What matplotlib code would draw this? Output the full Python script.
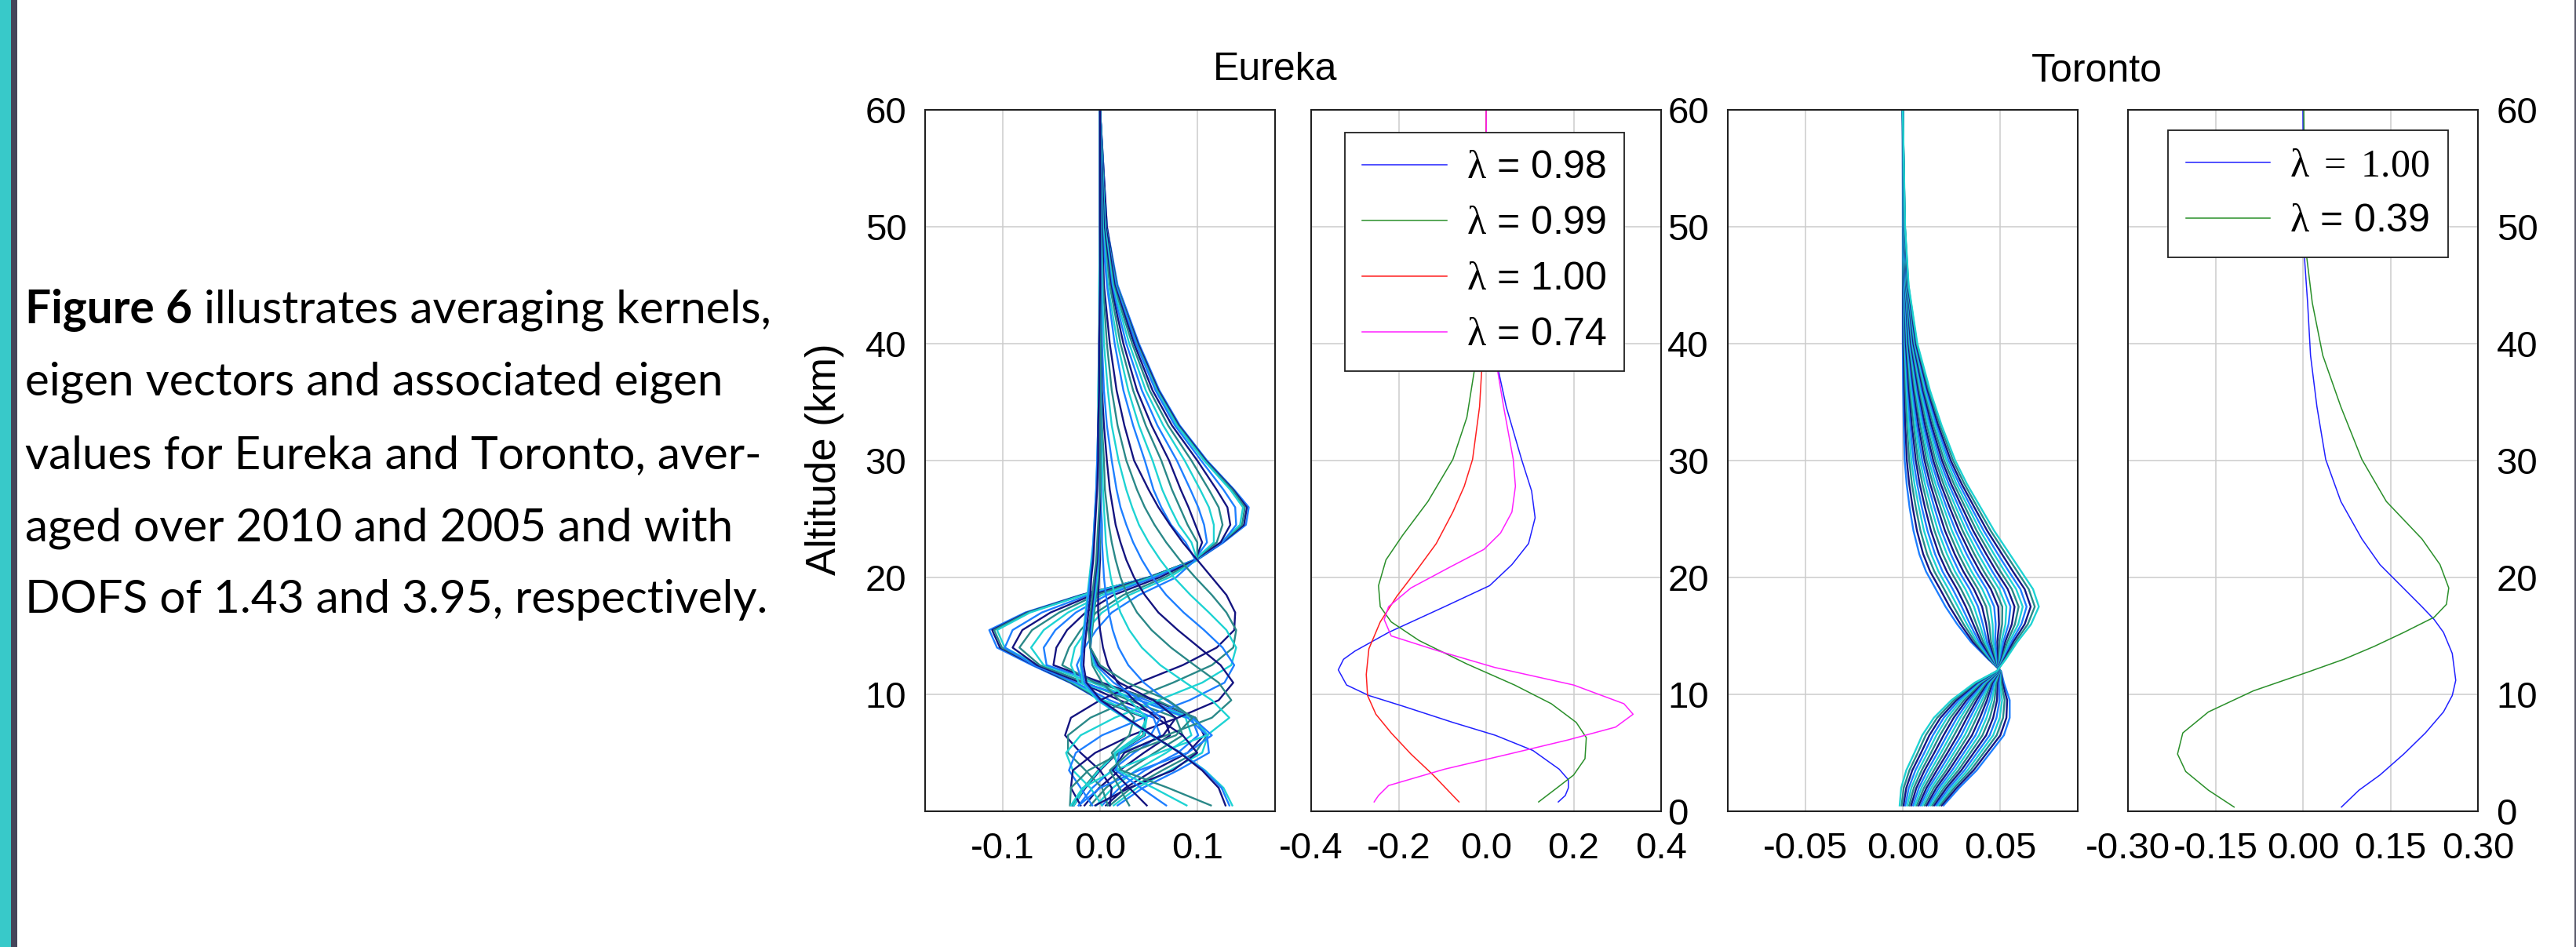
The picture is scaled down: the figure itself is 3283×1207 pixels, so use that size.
import matplotlib
matplotlib.use('Agg')
import matplotlib.pyplot as plt
from matplotlib.patches import Rectangle
import numpy as np

plt.rcParams['font.family'] = ['Liberation Sans', 'DejaVu Sans']
plt.rcParams['mathtext.fontset'] = 'custom'
plt.rcParams['mathtext.rm'] = 'Liberation Serif'
plt.rcParams['mathtext.it'] = 'Liberation Serif:italic'
plt.rcParams['mathtext.bf'] = 'Liberation Serif:bold'

# ---------------- data ----------------
caption_bold = 'Figure 6'
caption_lines = [' illustrates averaging kernels,',
                 'eigen vectors and associated eigen',
                 'values for Eureka and Toronto, aver-',
                 'aged over 2010 and 2005 and with',
                 'DOFS of 1.43 and 3.95, respectively.']

# Eureka averaging kernels: one row per kernel, values at eureka_alt (km)
eureka_alt = [0.5, 2, 3.5, 5, 6.5, 8, 9.5, 11, 12.5, 14, 15.5, 17, 18.5, 20,
              21.5, 23, 24.5, 26, 27.5, 30, 33, 36, 40, 45, 50, 60]
eureka_ak = [
    # upper-level kernels (bunched envelope)
    [-0.028, -0.016, -0.001, 0.017, 0.045, 0.047, 0.000, -0.031, -0.070, -0.106, -0.114, -0.077, -0.020, 0.051, 0.100, 0.127, 0.150, 0.153, 0.138, 0.110, 0.082, 0.061, 0.040, 0.018, 0.007, 0.0],
    [-0.027, -0.015, 0.000, 0.018, 0.046, 0.046, 0.001, -0.030, -0.068, -0.103, -0.111, -0.075, -0.019, 0.050, 0.099, 0.126, 0.148, 0.151, 0.137, 0.109, 0.081, 0.060, 0.039, 0.017, 0.007, 0.0],
    [-0.029, -0.017, -0.002, 0.016, 0.044, 0.047, 0.002, -0.029, -0.066, -0.101, -0.109, -0.074, -0.018, 0.050, 0.099, 0.125, 0.146, 0.149, 0.136, 0.108, 0.080, 0.059, 0.038, 0.017, 0.006, 0.0],
    [-0.027, -0.016, -0.001, 0.017, 0.045, 0.048, 0.004, -0.027, -0.064, -0.098, -0.106, -0.072, -0.017, 0.049, 0.099, 0.124, 0.144, 0.147, 0.134, 0.107, 0.079, 0.058, 0.037, 0.016, 0.006, 0.0],
    # fan with nested lobes
    [-0.022, -0.008, 0.012, 0.035, 0.062, 0.055, 0.010, -0.025, -0.068, -0.098, -0.090, -0.060, -0.012, 0.050, 0.098, 0.126, 0.140, 0.139, 0.127, 0.104, 0.077, 0.057, 0.037, 0.016, 0.006, 0.0],
    [-0.016, -0.001, 0.020, 0.045, 0.072, 0.066, 0.020, -0.020, -0.065, -0.090, -0.080, -0.051, -0.008, 0.050, 0.097, 0.124, 0.134, 0.131, 0.120, 0.100, 0.074, 0.054, 0.035, 0.015, 0.006, 0.0],
    [-0.010, 0.006, 0.028, 0.056, 0.085, 0.078, 0.030, -0.015, -0.062, -0.083, -0.070, -0.042, -0.004, 0.051, 0.097, 0.120, 0.126, 0.122, 0.112, 0.094, 0.070, 0.051, 0.033, 0.014, 0.005, 0.0],
    [-0.004, 0.013, 0.037, 0.068, 0.094, 0.088, 0.040, -0.008, -0.058, -0.071, -0.058, -0.033, 0.002, 0.053, 0.097, 0.117, 0.117, 0.112, 0.103, 0.087, 0.065, 0.047, 0.030, 0.013, 0.005, 0.0],
    [0.002, 0.020, 0.046, 0.080, 0.101, 0.094, 0.048, 0.000, -0.055, -0.058, -0.046, -0.025, 0.007, 0.056, 0.097, 0.110, 0.107, 0.101, 0.093, 0.079, 0.059, 0.043, 0.027, 0.012, 0.004, 0.0],
    [0.006, 0.026, 0.055, 0.090, 0.107, 0.098, 0.055, 0.002, -0.048, -0.045, -0.034, -0.015, 0.014, 0.061, 0.098, 0.105, 0.098, 0.091, 0.083, 0.071, 0.053, 0.038, 0.024, 0.011, 0.004, 0.0],
    [0.010, 0.032, 0.064, 0.098, 0.110, 0.098, 0.058, -0.005, -0.039, -0.032, -0.020, -0.004, 0.024, 0.066, 0.100, 0.100, 0.090, 0.082, 0.074, 0.063, 0.047, 0.034, 0.021, 0.010, 0.003, 0.0],
    [0.014, 0.038, 0.072, 0.105, 0.111, 0.095, 0.040, -0.022, -0.030, -0.026, -0.014, 0.002, 0.030, 0.071, 0.100, 0.094, 0.081, 0.072, 0.064, 0.054, 0.040, 0.029, 0.018, 0.008, 0.003, 0.0],
    [0.018, 0.044, 0.080, 0.112, 0.110, 0.090, 0.040, -0.018, -0.024, -0.016, -0.004, 0.012, 0.040, 0.078, 0.098, 0.088, 0.073, 0.063, 0.055, 0.046, 0.034, 0.024, 0.015, 0.007, 0.002, 0.0],
    # mid-level kernels
    [0.010, 0.012, 0.000, -0.020, -0.036, -0.030, 0.000, 0.040, 0.085, 0.120, 0.138, 0.139, 0.130, 0.115, 0.100, 0.085, 0.072, 0.060, 0.050, 0.035, 0.025, 0.017, 0.010, 0.004, 0.002, 0.0],
    [0.008, 0.002, -0.015, -0.033, -0.033, -0.010, 0.030, 0.075, 0.115, 0.137, 0.140, 0.130, 0.115, 0.098, 0.082, 0.068, 0.056, 0.046, 0.038, 0.027, 0.018, 0.012, 0.007, 0.003, 0.001, 0.0],
    [0.002, -0.010, -0.028, -0.035, -0.020, 0.015, 0.060, 0.105, 0.135, 0.140, 0.130, 0.112, 0.093, 0.076, 0.062, 0.050, 0.040, 0.033, 0.027, 0.019, 0.012, 0.008, 0.004, 0.002, 0.001, 0.0],
    [-0.008, -0.020, -0.032, -0.025, 0.002, 0.045, 0.092, 0.128, 0.138, 0.126, 0.107, 0.086, 0.068, 0.054, 0.043, 0.034, 0.027, 0.021, 0.017, 0.012, 0.007, 0.004, 0.002, 0.001, 0.0, 0.0],
    [-0.020, -0.030, -0.028, -0.005, 0.032, 0.080, 0.122, 0.137, 0.124, 0.102, 0.080, 0.060, 0.046, 0.035, 0.027, 0.021, 0.016, 0.013, 0.010, 0.007, 0.004, 0.002, 0.001, 0.0, 0.0, 0.0],
    [-0.031, -0.030, -0.012, 0.022, 0.068, 0.115, 0.135, 0.122, 0.097, 0.073, 0.053, 0.038, 0.028, 0.021, 0.016, 0.012, 0.009, 0.007, 0.005, 0.004, 0.002, 0.001, 0.001, 0.0, 0.0, 0.0],
    [-0.030, -0.018, 0.015, 0.060, 0.110, 0.133, 0.115, 0.088, 0.062, 0.043, 0.030, 0.021, 0.015, 0.011, 0.008, 0.006, 0.005, 0.004, 0.003, 0.002, 0.001, 0.001, 0.0, 0.0, 0.0, 0.0],
    [-0.022, 0.000, 0.040, 0.090, 0.115, 0.095, 0.068, 0.045, 0.029, 0.019, 0.013, 0.009, 0.006, 0.004, 0.003, 0.002, 0.002, 0.001, 0.001, 0.0, 0.0, 0.0, 0.0, 0.0, 0.0, 0.0],
    [-0.005, 0.030, 0.075, 0.100, 0.085, 0.058, 0.035, 0.018, 0.008, 0.003, 0.000, -0.002, -0.002, -0.001, 0.0, 0.0, 0.0, 0.0, 0.0, 0.0, 0.0, 0.0, 0.0, 0.0, 0.0, 0.0],
    # low-level kernels
    [0.114, 0.070, 0.022, 0.012, 0.030, 0.035, 0.020, 0.002, -0.008, -0.010, -0.008, -0.006, -0.004, -0.002, -0.001, 0.0, 0.0, 0.0, 0.0, 0.0, 0.0, 0.0, 0.0, 0.0, 0.0, 0.0],
    [0.089, 0.055, 0.018, 0.015, 0.040, 0.048, 0.030, 0.008, -0.006, -0.010, -0.009, -0.007, -0.005, -0.003, -0.002, -0.001, 0.0, 0.0, 0.0, 0.0, 0.0, 0.0, 0.0, 0.0, 0.0, 0.0],
    [0.068, 0.042, 0.016, 0.020, 0.052, 0.062, 0.042, 0.014, -0.004, -0.010, -0.010, -0.008, -0.006, -0.004, -0.002, -0.001, 0.0, 0.0, 0.0, 0.0, 0.0, 0.0, 0.0, 0.0, 0.0, 0.0],
    [0.048, 0.030, 0.013, 0.025, 0.065, 0.078, 0.055, 0.020, -0.002, -0.010, -0.011, -0.009, -0.007, -0.005, -0.003, -0.002, -0.001, 0.0, 0.0, 0.0, 0.0, 0.0, 0.0, 0.0, 0.0, 0.0],
    [0.030, 0.020, 0.010, 0.030, 0.078, 0.095, 0.070, 0.028, 0.000, -0.010, -0.012, -0.010, -0.008, -0.006, -0.004, -0.003, -0.002, -0.001, 0.0, 0.0, 0.0, 0.0, 0.0, 0.0, 0.0, 0.0],
    [0.136, 0.127, 0.108, 0.083, 0.052, 0.025, -0.003, -0.018, -0.020, -0.019, -0.017, -0.015, -0.013, -0.011, -0.009, -0.007, -0.006, -0.005, -0.004, -0.003, -0.002, -0.002, -0.001, -0.001, 0.0, 0.0],
    [0.133, 0.125, 0.107, 0.083, 0.053, 0.026, -0.001, -0.016, -0.019, -0.018, -0.016, -0.014, -0.012, -0.010, -0.008, -0.007, -0.006, -0.005, -0.004, -0.003, -0.002, -0.001, -0.001, 0.0, 0.0, 0.0],
    [0.129, 0.122, 0.105, 0.082, 0.054, 0.027, 0.001, -0.014, -0.017, -0.016, -0.014, -0.012, -0.010, -0.009, -0.007, -0.006, -0.005, -0.004, -0.003, -0.002, -0.002, -0.001, -0.001, 0.0, 0.0, 0.0],
]

# Eureka eigen vectors
eu_labels = [r'$\mathrm{\lambda}$ = 0.98', r'$\mathrm{\lambda}$ = 0.99',
             r'$\mathrm{\lambda}$ = 1.00', r'$\mathrm{\lambda}$ = 0.74']
eu_colors = ['#2020ff', '#2a8f2a', '#ff2020', '#ff20ff']
eu_v1_alt = [0.8, 1.35, 2.0, 2.7, 3.6, 5.2, 6.5, 7.6, 9.0, 9.9, 10.8, 12.1, 13.0, 13.7, 15.3, 17.5,
             19.3, 21.1, 22.9, 25.1, 27.4, 30.1, 34.6, 39.1, 45, 50, 55, 60]
eu_v1 = [0.165, 0.181, 0.188, 0.188, 0.167, 0.107, 0.021, -0.076, -0.191, -0.268, -0.319, -0.338,
         -0.326, -0.300, -0.223, -0.095, 0.008, 0.059, 0.097, 0.112, 0.104, 0.081, 0.046, 0.020,
         0.007, 0.003, 0.001, 0.0]
eu_v2_alt = [0.8, 2.0, 3.1, 4.5, 6.3, 7.6, 9.2, 10.8, 12.6, 14.6, 16.2, 17.5, 19.3, 21.5, 23.6,
             26.5, 30.1, 33.7, 39.1, 45, 50, 55, 60]
eu_v2 = [0.120, 0.162, 0.200, 0.226, 0.229, 0.206, 0.149, 0.065, -0.044, -0.153, -0.217, -0.242,
         -0.246, -0.229, -0.191, -0.133, -0.076, -0.044, -0.021, -0.008, -0.003, -0.001, 0.0]
eu_v3_alt = [0.8, 3.1, 4.9, 6.7, 8.3, 9.9, 11.7, 13.9, 16.2, 18.4, 20.6, 22.9, 25.6, 27.8, 30.1,
             34.6, 39.1, 45, 50, 55, 60]
eu_v3 = [-0.062, -0.121, -0.172, -0.217, -0.252, -0.271, -0.274, -0.268, -0.242, -0.204, -0.159,
         -0.114, -0.076, -0.050, -0.031, -0.015, -0.008, -0.003, -0.001, 0.0, 0.0]
eu_v4_alt = [0.8, 1.35, 2.2, 3.6, 4.9, 6.1, 7.2, 8.3, 9.2, 10.8, 12.3, 13.7, 15.0, 16.4, 17.5, 19.1,
             20.9, 22.4, 23.8, 25.6, 27.8, 30.1, 34.6, 39.1, 45, 50, 55, 60]
eu_v4 = [-0.256, -0.246, -0.223, -0.095, 0.053, 0.187, 0.296, 0.336, 0.315, 0.200, 0.020, -0.108,
         -0.217, -0.233, -0.223, -0.172, -0.082, -0.005, 0.033, 0.059, 0.067, 0.062, 0.040, 0.020,
         0.008, 0.003, 0.001, 0.0]

# Toronto averaging kernels: one row per altitude, one column per kernel
toronto_alt = [0.5, 2, 3.5, 5, 6.5, 8, 9.5, 11, 12, 13, 14.5, 16, 17.5, 19, 20.5, 22, 24, 26,
               28, 30, 33, 36, 40, 45, 50, 60]
toronto_ak = [
    [0.0210, 0.0200, 0.0190, 0.0181, 0.0171, 0.0161, 0.0151, 0.0141, 0.0131, 0.0122, 0.0112, 0.0102, 0.0092, 0.0082, 0.0072, 0.0063, 0.0053, 0.0043, 0.0033, 0.0023, 0.0013, 0.0004, -0.0006, -0.0016],
    [0.0290, 0.0277, 0.0264, 0.0251, 0.0238, 0.0225, 0.0212, 0.0199, 0.0186, 0.0173, 0.0160, 0.0147, 0.0134, 0.0122, 0.0109, 0.0096, 0.0083, 0.0070, 0.0057, 0.0044, 0.0031, 0.0018, 0.0005, -0.0008],
    [0.0380, 0.0364, 0.0349, 0.0333, 0.0317, 0.0301, 0.0286, 0.0270, 0.0254, 0.0238, 0.0223, 0.0207, 0.0191, 0.0175, 0.0160, 0.0144, 0.0128, 0.0112, 0.0097, 0.0081, 0.0065, 0.0049, 0.0034, 0.0018],
    [0.0450, 0.0433, 0.0416, 0.0399, 0.0382, 0.0365, 0.0348, 0.0331, 0.0314, 0.0297, 0.0280, 0.0263, 0.0246, 0.0230, 0.0213, 0.0196, 0.0179, 0.0162, 0.0145, 0.0128, 0.0111, 0.0094, 0.0077, 0.0060],
    [0.0520, 0.0502, 0.0483, 0.0465, 0.0447, 0.0429, 0.0410, 0.0392, 0.0374, 0.0356, 0.0337, 0.0319, 0.0301, 0.0283, 0.0264, 0.0246, 0.0228, 0.0210, 0.0191, 0.0173, 0.0155, 0.0137, 0.0118, 0.0100],
    [0.0550, 0.0533, 0.0516, 0.0499, 0.0482, 0.0465, 0.0448, 0.0431, 0.0414, 0.0397, 0.0380, 0.0363, 0.0346, 0.0330, 0.0313, 0.0296, 0.0279, 0.0262, 0.0245, 0.0228, 0.0211, 0.0194, 0.0177, 0.0160],
    [0.0550, 0.0537, 0.0524, 0.0511, 0.0498, 0.0485, 0.0472, 0.0459, 0.0446, 0.0433, 0.0420, 0.0407, 0.0393, 0.0380, 0.0367, 0.0354, 0.0341, 0.0328, 0.0315, 0.0302, 0.0289, 0.0276, 0.0263, 0.0250],
    [0.0520, 0.0513, 0.0507, 0.0500, 0.0494, 0.0487, 0.0481, 0.0474, 0.0468, 0.0461, 0.0455, 0.0448, 0.0442, 0.0435, 0.0429, 0.0422, 0.0416, 0.0409, 0.0403, 0.0396, 0.0390, 0.0383, 0.0377, 0.0370],
    [0.0505, 0.0504, 0.0503, 0.0502, 0.0501, 0.0500, 0.0500, 0.0499, 0.0498, 0.0497, 0.0496, 0.0495, 0.0494, 0.0493, 0.0492, 0.0491, 0.0490, 0.0489, 0.0489, 0.0488, 0.0487, 0.0486, 0.0485, 0.0484],
    [0.0440, 0.0444, 0.0448, 0.0452, 0.0456, 0.0460, 0.0463, 0.0467, 0.0471, 0.0475, 0.0479, 0.0483, 0.0487, 0.0491, 0.0495, 0.0499, 0.0503, 0.0507, 0.0510, 0.0514, 0.0518, 0.0522, 0.0526, 0.0530],
    [0.0350, 0.0360, 0.0371, 0.0381, 0.0392, 0.0402, 0.0413, 0.0423, 0.0433, 0.0444, 0.0454, 0.0465, 0.0475, 0.0486, 0.0496, 0.0507, 0.0517, 0.0527, 0.0538, 0.0548, 0.0559, 0.0569, 0.0580, 0.0590],
    [0.0280, 0.0297, 0.0313, 0.0330, 0.0346, 0.0363, 0.0379, 0.0396, 0.0412, 0.0429, 0.0445, 0.0462, 0.0478, 0.0495, 0.0511, 0.0528, 0.0544, 0.0561, 0.0577, 0.0594, 0.0610, 0.0627, 0.0643, 0.0660],
    [0.0220, 0.0241, 0.0262, 0.0283, 0.0303, 0.0324, 0.0345, 0.0366, 0.0387, 0.0408, 0.0429, 0.0450, 0.0470, 0.0491, 0.0512, 0.0533, 0.0554, 0.0575, 0.0596, 0.0617, 0.0637, 0.0658, 0.0679, 0.0700],
    [0.0170, 0.0192, 0.0213, 0.0235, 0.0257, 0.0279, 0.0300, 0.0322, 0.0344, 0.0366, 0.0387, 0.0409, 0.0431, 0.0453, 0.0474, 0.0496, 0.0518, 0.0540, 0.0561, 0.0583, 0.0605, 0.0627, 0.0648, 0.0670],
    [0.0120, 0.0141, 0.0163, 0.0184, 0.0205, 0.0227, 0.0248, 0.0269, 0.0290, 0.0312, 0.0333, 0.0354, 0.0376, 0.0397, 0.0418, 0.0440, 0.0461, 0.0482, 0.0503, 0.0525, 0.0546, 0.0567, 0.0589, 0.0610],
    [0.0085, 0.0105, 0.0125, 0.0146, 0.0166, 0.0186, 0.0206, 0.0227, 0.0247, 0.0267, 0.0287, 0.0307, 0.0328, 0.0348, 0.0368, 0.0388, 0.0409, 0.0429, 0.0449, 0.0469, 0.0489, 0.0510, 0.0530, 0.0550],
    [0.0055, 0.0073, 0.0091, 0.0109, 0.0127, 0.0145, 0.0163, 0.0181, 0.0199, 0.0217, 0.0235, 0.0253, 0.0272, 0.0290, 0.0308, 0.0326, 0.0344, 0.0362, 0.0380, 0.0398, 0.0416, 0.0434, 0.0452, 0.0470],
    [0.0035, 0.0051, 0.0067, 0.0083, 0.0098, 0.0114, 0.0130, 0.0146, 0.0162, 0.0178, 0.0194, 0.0210, 0.0225, 0.0241, 0.0257, 0.0273, 0.0289, 0.0305, 0.0321, 0.0337, 0.0352, 0.0368, 0.0384, 0.0400],
    [0.0020, 0.0033, 0.0047, 0.0060, 0.0074, 0.0087, 0.0101, 0.0114, 0.0128, 0.0141, 0.0155, 0.0168, 0.0182, 0.0195, 0.0209, 0.0222, 0.0236, 0.0249, 0.0263, 0.0276, 0.0290, 0.0303, 0.0317, 0.0330],
    [0.0010, 0.0021, 0.0033, 0.0044, 0.0055, 0.0067, 0.0078, 0.0089, 0.0100, 0.0112, 0.0123, 0.0134, 0.0146, 0.0157, 0.0168, 0.0180, 0.0191, 0.0202, 0.0213, 0.0225, 0.0236, 0.0247, 0.0259, 0.0270],
    [0.0005, 0.0013, 0.0022, 0.0030, 0.0039, 0.0047, 0.0056, 0.0064, 0.0073, 0.0081, 0.0090, 0.0098, 0.0107, 0.0115, 0.0124, 0.0132, 0.0141, 0.0149, 0.0158, 0.0166, 0.0175, 0.0183, 0.0192, 0.0200],
    [0.0002, 0.0008, 0.0014, 0.0020, 0.0026, 0.0032, 0.0038, 0.0044, 0.0050, 0.0056, 0.0062, 0.0068, 0.0074, 0.0080, 0.0086, 0.0092, 0.0098, 0.0104, 0.0110, 0.0116, 0.0122, 0.0128, 0.0134, 0.0140],
    [0.0000, 0.0003, 0.0007, 0.0010, 0.0013, 0.0016, 0.0020, 0.0023, 0.0026, 0.0029, 0.0033, 0.0036, 0.0039, 0.0042, 0.0046, 0.0049, 0.0052, 0.0055, 0.0059, 0.0062, 0.0065, 0.0068, 0.0072, 0.0075],
    [0.0000, 0.0001, 0.0003, 0.0004, 0.0005, 0.0007, 0.0008, 0.0009, 0.0010, 0.0012, 0.0013, 0.0014, 0.0016, 0.0017, 0.0018, 0.0020, 0.0021, 0.0022, 0.0023, 0.0025, 0.0026, 0.0027, 0.0029, 0.0030],
    [0.0000, 0.0001, 0.0001, 0.0002, 0.0002, 0.0003, 0.0003, 0.0004, 0.0004, 0.0005, 0.0005, 0.0006, 0.0006, 0.0007, 0.0007, 0.0008, 0.0008, 0.0009, 0.0009, 0.0010, 0.0010, 0.0011, 0.0011, 0.0012],
    [0.0] * 24,
]

# Toronto eigen vectors
to_labels = [r'$\mathrm{\lambda\ =\ 1.00}$', r'$\mathrm{\lambda}$ = 0.39']
to_colors = ['#2020ff', '#2a8f2a']
to_v1_alt = [0.36, 1.8, 3.1, 4.9, 6.7, 8.5, 9.9, 11.2, 13.5, 15.3, 16.4, 17.5, 19.3, 21.1, 23.3,
             26.5, 30.1, 34.6, 39.0, 43.5, 47.1, 52, 60]
to_v1 = [0.066, 0.096, 0.132, 0.173, 0.210, 0.241, 0.256, 0.262, 0.256, 0.241, 0.225, 0.204, 0.168,
         0.132, 0.101, 0.065, 0.039, 0.024, 0.013, 0.008, 0.003, 0.001, 0.0]
to_v2_alt = [0.36, 1.8, 3.4, 4.9, 6.7, 8.5, 10.3, 11.9, 13.0, 14.1, 15.3, 16.6, 17.7, 19.1, 21.1,
             23.3, 26.5, 30.1, 34.6, 39.0, 43.5, 47.6, 52, 60]
to_v2 = [-0.118, -0.162, -0.201, -0.215, -0.206, -0.162, -0.085, 0.008, 0.070, 0.122, 0.173, 0.225,
         0.246, 0.250, 0.235, 0.204, 0.143, 0.101, 0.065, 0.034, 0.016, 0.006, 0.003, 0.0015]

ak_colors = ['#1e7fff', '#141480', '#2a8888', '#1ed3d3']

# ---------------- figure ----------------
W, H = 3283, 1207
fig = plt.figure(figsize=(W / 100, H / 100), dpi=100)

# slide border stripes
fig.patches.append(Rectangle((0, 0), 14 / W, 1, transform=fig.transFigure,
                             facecolor='#38c9c9', edgecolor='none'))
fig.patches.append(Rectangle((14 / W, 0), 8 / W, 1, transform=fig.transFigure,
                             facecolor='#45455a', edgecolor='none'))
fig.patches.append(Rectangle((1 - 2 / W, 0), 2 / W, 1, transform=fig.transFigure,
                             facecolor='#5a5a6a', edgecolor='none'))

bottom = 1 - 1034 / H
height = 894 / H
pw = 446 / W
ax1 = fig.add_axes([1179 / W, bottom, pw, height])
ax2 = fig.add_axes([1671 / W, bottom, pw, height])
ax3 = fig.add_axes([2202 / W, bottom, pw, height])
ax4 = fig.add_axes([2712 / W, bottom, pw, height])


def style(ax, xlim, xticks, xlabels, side, ypad):
    ax.set_xlim(*xlim)
    ax.set_ylim(0, 60)
    ax.set_xticks(xticks)
    ax.set_xticklabels(xlabels)
    ax.set_yticks(range(0, 61, 10))
    ax.grid(color='#cccccc', linewidth=1.1)
    ax.set_axisbelow(True)
    ax.tick_params(axis='both', length=0, labelsize=34)
    ax.tick_params(axis='x', pad=19)
    for s in ax.spines.values():
        s.set_linewidth(1.5)
        s.set_color('#202020')
    if side == 'left':
        ax.tick_params(axis='y', pad=ypad)
        ax.set_yticklabels(['', '10', '20', '30', '40', '50', '60'])
    elif side == 'right':
        ax.yaxis.tick_right()
        ax.tick_params(axis='y', pad=ypad, length=0)
    else:
        ax.tick_params(axis='y', labelleft=False)


style(ax1, (-0.18, 0.18), [-0.1, 0.0, 0.1], ['-0.1', '0.0', '0.1'], 'left', 17)
style(ax2, (-0.4, 0.4), [-0.4, -0.2, 0.0, 0.2, 0.4], ['-0.4', '-0.2', '0.0', '0.2', '0.4'], 'right', 6)
style(ax3, (-0.09, 0.09), [-0.05, 0.0, 0.05], ['-0.05', '0.00', '0.05'], 'none', 0)
style(ax4, (-0.3, 0.3), [-0.3, -0.15, 0.0, 0.15, 0.3],
      ['-0.30', '-0.15', '0.00', '0.15', '0.30'], 'right', 17)

# averaging kernels
for i, row in enumerate(eureka_ak):
    ax1.plot(row, eureka_alt, color=ak_colors[i % 4], lw=1.7)

tor = np.array(toronto_ak).T
for i, col in enumerate(tor):
    ax3.plot(col, toronto_alt, color=ak_colors[i % 4], lw=1.7)

# eigen vectors
for x, z, c, lab in zip([eu_v1, eu_v2, eu_v3, eu_v4],
                        [eu_v1_alt, eu_v2_alt, eu_v3_alt, eu_v4_alt], eu_colors, eu_labels):
    ax2.plot(x, z, color=c, lw=1.1, label=lab)
for x, z, c, lab in zip([to_v1, to_v2], [to_v1_alt, to_v2_alt], to_colors, to_labels):
    ax4.plot(x, z, color=c, lw=1.1, label=lab)

leg_kw = dict(loc='upper center', borderaxespad=0, fontsize=36, fancybox=False,
              edgecolor='#202020', framealpha=1, handlelength=2.15, handletextpad=0.5,
              labelspacing=0.5, borderpad=0.45)
leg2 = ax2.legend(bbox_to_anchor=(0.4955, 0.9676), **leg_kw)
leg4 = ax4.legend(bbox_to_anchor=(0.5145, 0.971), **leg_kw)
for lg in (leg2, leg4):
    lg.get_frame().set_linewidth(1.3)

# titles and axis label
fig.text(1625 / W, 1 - 102 / H, 'Eureka', fontsize=36, ha='center', va='baseline')
fig.text(2672 / W, 1 - 104 / H, 'Toronto', fontsize=36, ha='center', va='baseline')
fig.text(1051 / W, 0.515, 'Altitude (km)', fontsize=38, rotation=90, ha='center', va='center')

# caption paragraph, sized so the first line spans like the original
para_font = ['Lato', 'DejaVu Sans']
r = fig.canvas.get_renderer()
fs = 40
pb = fig.text(0, 0, caption_bold, fontsize=fs, fontweight='bold', family=para_font)
pr = fig.text(0, 0, caption_lines[0], fontsize=fs, family=para_font)
w = pb.get_window_extent(r).width + pr.get_window_extent(r).width
pb.remove()
pr.remove()
fs = fs * 952 / w

x0 = 32 / W
baselines = [412, 504, 597, 689, 781]
tb = fig.text(x0, 1 - baselines[0] / H, caption_bold, fontsize=fs, fontweight='bold',
              family=para_font, va='baseline')
bb = tb.get_window_extent(r)
fig.text(bb.x1 / fig.bbox.width, 1 - baselines[0] / H, caption_lines[0], fontsize=fs,
         family=para_font, va='baseline')
for line, yb in zip(caption_lines[1:], baselines[1:]):
    fig.text(x0, 1 - yb / H, line, fontsize=fs, family=para_font, va='baseline')

fig.savefig('out.png', dpi=100)
